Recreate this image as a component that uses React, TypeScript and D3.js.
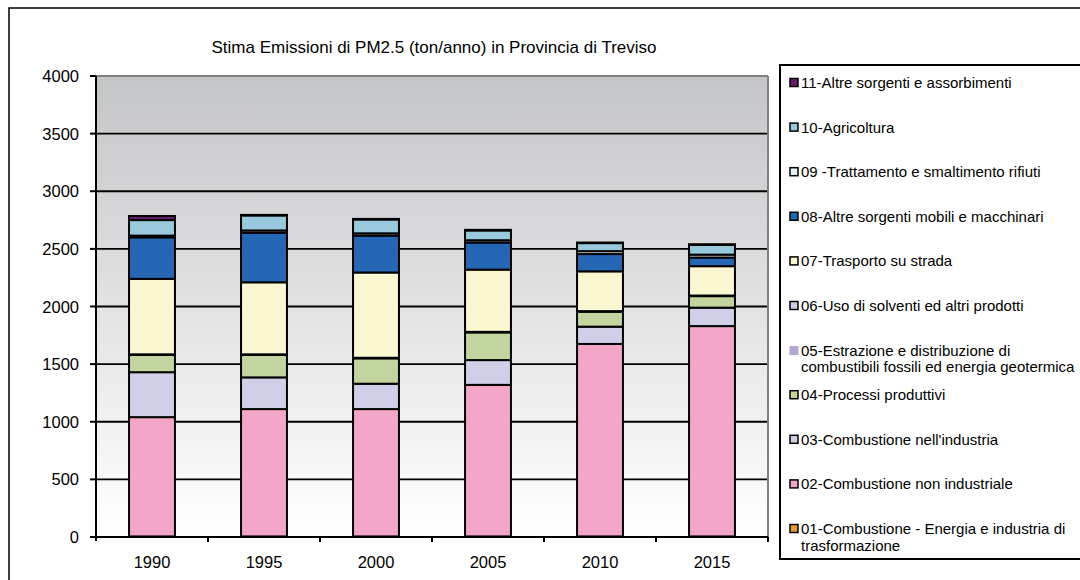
import React from 'react';
import * as d3 from 'd3';

const years = ['1990', '1995', '2000', '2005', '2010', '2015'];

// ton/anno
const s01 = [5, 5, 5, 5, 5, 5];
const s02 = [1035, 1105, 1105, 1315, 1670, 1825];
const s03 = [390, 275, 220, 215, 150, 160];
const s04 = [150, 195, 220, 240, 130, 100];
const s05 = [0, 0, 0, 0, 0, 0];
const s06 = [5, 5, 5, 5, 5, 5];
const s07 = [655, 625, 740, 540, 345, 255];
const s08 = [360, 430, 320, 235, 150, 75];
const s09 = [15, 20, 20, 20, 25, 25];
const s10 = [135, 130, 120, 85, 70, 85];
const s11 = [35, 5, 5, 5, 5, 5];

const seriesValues = [s01, s02, s03, s04, s05, s06, s07, s08, s09, s10, s11];

const seriesLabels = [
  ['01-Combustione - Energia e industria di', 'trasformazione'],
  ['02-Combustione non industriale'],
  ["03-Combustione nell'industria"],
  ['04-Processi produttivi'],
  ['05-Estrazione e distribuzione di', 'combustibili fossili ed energia geotermica'],
  ['06-Uso di solventi ed altri prodotti'],
  ['07-Trasporto su strada'],
  ['08-Altre sorgenti mobili e macchinari'],
  ['09 -Trattamento e smaltimento rifiuti'],
  ['10-Agricoltura'],
  ['11-Altre sorgenti e assorbimenti'],
];

const seriesColors = [
  '#e59a3a', '#f4a6c8', '#d0cfe8', '#c3d59e', '#b2a5cf', '#cfcde6',
  '#fbf8d1', '#2667b5', '#e3f1f5', '#99c9dd', '#6b1b6e',
];

const yTicks = [0, 500, 1000, 1500, 2000, 2500, 3000, 3500, 4000];

const title = 'Stima Emissioni di PM2.5 (ton/anno) in Provincia di Treviso';

const font = '"Liberation Sans", Arial, sans-serif';

export default function App() {
  const left = 96, right = 768, top = 76, bottom = 537;

  const keys = seriesValues.map((_, i) => 'k' + i);
  const table = years.map((y, j) => {
    const row: any = { year: y };
    seriesValues.forEach((s, i) => (row['k' + i] = s[j]));
    return row;
  });
  const stacked = d3.stack<any>().keys(keys)(table);

  const x = d3.scaleBand().domain(years).range([left, right]).paddingInner(0.59).paddingOuter(0.295);
  const y = d3.scaleLinear().domain([0, 4000]).range([bottom, top]);
  const step = x.step();

  return (
    <svg width={1080} height={580} style={{ position: 'absolute', left: 0, top: 0, display: 'block' }}>
      <defs>
        <linearGradient id="bg" x1="0" y1="0" x2="0" y2="1">
          <stop offset="0" stopColor="#c4c5c7" />
          <stop offset="1" stopColor="#ffffff" />
        </linearGradient>
      </defs>
      <g fontFamily={font}>
        <rect x={9} y={8} width={1200} height={700} fill="#fff" stroke="#000" strokeWidth={1.5} />

        <text x={434} y={53} textAnchor="middle" fontSize={17} fill="#000">{title}</text>

        {/* area del grafico */}
        <rect x={left} y={top} width={right - left} height={bottom - top} fill="url(#bg)" />
        {yTicks.filter((t) => t > 0 && t < 4000).map((t) => (
          <line key={t} x1={left} x2={right} y1={y(t)} y2={y(t)} stroke="#000" strokeWidth={1.8} />
        ))}
        <line x1={left} x2={right} y1={top} y2={top} stroke="#808080" strokeWidth={2} />
        <line x1={right} x2={right} y1={top} y2={bottom} stroke="#808080" strokeWidth={2} />

        {stacked.map((layer, i) => (
          <g key={layer.key} fill={seriesColors[i]}>
            {layer.map((d: any) => {
              const h = y(d[0]) - y(d[1]);
              if (h <= 0) return null;
              return (
                <rect
                  key={d.data.year}
                  x={x(d.data.year)}
                  y={y(d[1])}
                  width={x.bandwidth()}
                  height={h}
                  stroke="#000"
                  strokeWidth={2}
                />
              );
            })}
          </g>
        ))}

        {/* assi */}
        <line x1={left} x2={left} y1={top} y2={bottom + 4} stroke="#000" strokeWidth={2} />
        <line x1={left - 6} x2={right} y1={bottom} y2={bottom} stroke="#000" strokeWidth={2} />
        {yTicks.map((t) => (
          <g key={t}>
            <line x1={left - 6} x2={left} y1={y(t)} y2={y(t)} stroke="#000" strokeWidth={2} />
            <text x={79} y={y(t) + 6} textAnchor="end" fontSize={16.5} fill="#000">{t}</text>
          </g>
        ))}
        {years.map((yr, j) => (
          <g key={yr}>
            <line x1={left + step * (j + 1)} x2={left + step * (j + 1)} y1={bottom} y2={bottom + 5} stroke="#000" strokeWidth={2} />
            <text x={(x(yr) as number) + x.bandwidth() / 2} y={568} textAnchor="middle" fontSize={16.5} fill="#000">{yr}</text>
          </g>
        ))}

        {/* legenda */}
        <rect x={780} y={65} width={400} height={494} fill="#fff" stroke="#000" strokeWidth={2} />
        {seriesLabels.map((lines, i) => {
          const idx = seriesLabels.length - 1 - i;
          const cy = 83 + idx * 44.6;
          const noBorder = i === 4;
          return (
            <g key={i}>
              <rect
                x={noBorder ? 789.5 : 790}
                y={cy - 4.5}
                width={noBorder ? 9 : 8}
                height={noBorder ? 9 : 8}
                fill={seriesColors[i]}
                stroke={noBorder ? 'none' : '#000'}
                strokeWidth={1.5}
              />
              {lines.map((ln, k) => (
                <text key={k} x={801} y={cy + 5 + k * 16.5} fontSize={15} fill="#000">{ln}</text>
              ))}
            </g>
          );
        })}
      </g>
    </svg>
  );
}
